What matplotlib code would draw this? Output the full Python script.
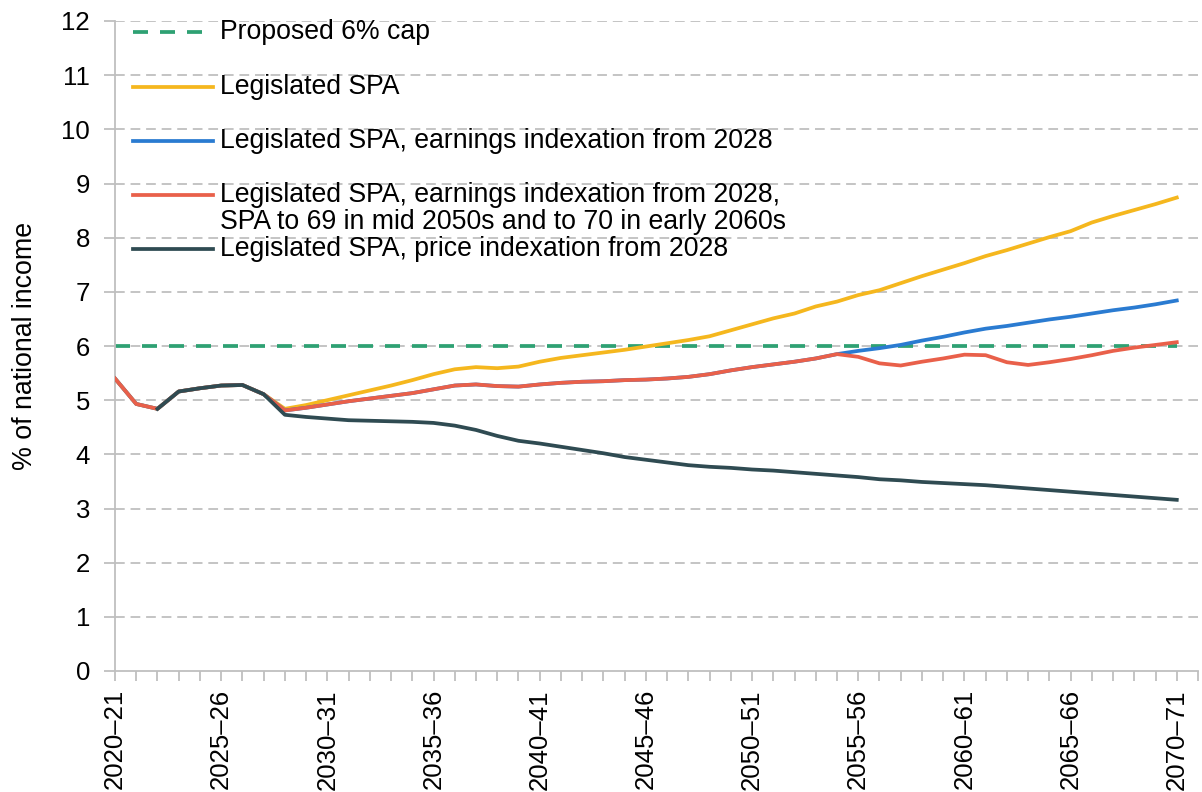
import numpy as np
import matplotlib.pyplot as plt
from matplotlib.lines import Line2D

plt.rcParams['font.family'] = ['Liberation Sans', 'DejaVu Sans']

# Financial years 2020-21 .. 2070-71
years = [f"{2020 + i}\u2013{(21 + i) % 100:02d}" for i in range(51)]

cap = [6.0] * 51

legislated = [5.40, 4.93, 4.84, 5.16, 5.22, 5.27, 5.28, 5.11, 4.84, 4.91,
              5.00, 5.09, 5.18, 5.27, 5.37, 5.48, 5.57, 5.61, 5.59, 5.62,
              5.71, 5.78, 5.83, 5.88, 5.93, 5.99, 6.05, 6.11, 6.18, 6.29,
              6.40, 6.51, 6.60, 6.73, 6.82, 6.94, 7.03, 7.16, 7.29, 7.41,
              7.53, 7.66, 7.77, 7.89, 8.01, 8.12, 8.28, 8.40, 8.51, 8.62,
              8.74]

earnings = [5.40, 4.93, 4.84, 5.16, 5.22, 5.27, 5.28, 5.11, 4.81, 4.86,
            4.92, 4.98, 5.03, 5.08, 5.13, 5.20, 5.27, 5.29, 5.26, 5.25,
            5.29, 5.32, 5.34, 5.35, 5.37, 5.38, 5.40, 5.43, 5.48, 5.55,
            5.61, 5.66, 5.71, 5.77, 5.85, 5.91, 5.96, 6.02, 6.10, 6.17,
            6.25, 6.32, 6.37, 6.43, 6.49, 6.54, 6.60, 6.66, 6.71, 6.77,
            6.84]

earnings_spa70 = [5.40, 4.93, 4.84, 5.16, 5.22, 5.27, 5.28, 5.11, 4.81, 4.86,
                  4.92, 4.98, 5.03, 5.08, 5.13, 5.20, 5.27, 5.29, 5.26, 5.25,
                  5.29, 5.32, 5.34, 5.35, 5.37, 5.38, 5.40, 5.43, 5.48, 5.55,
                  5.61, 5.66, 5.71, 5.77, 5.85, 5.80, 5.68, 5.64, 5.71, 5.77,
                  5.84, 5.83, 5.70, 5.65, 5.70, 5.76, 5.83, 5.91, 5.97, 6.02,
                  6.07]

prices = [np.nan, np.nan, 4.84, 5.16, 5.22, 5.27, 5.28, 5.11, 4.73, 4.69,
          4.66, 4.63, 4.62, 4.61, 4.60, 4.58, 4.53, 4.45, 4.34, 4.25,
          4.20, 4.14, 4.08, 4.02, 3.95, 3.90, 3.85, 3.80, 3.77, 3.75,
          3.72, 3.70, 3.67, 3.64, 3.61, 3.58, 3.54, 3.52, 3.49, 3.47,
          3.45, 3.43, 3.40, 3.37, 3.34, 3.31, 3.28, 3.25, 3.22, 3.19,
          3.16]

labels = ["Proposed 6% cap",
          "Legislated SPA",
          "Legislated SPA, earnings indexation from 2028",
          "Legislated SPA, earnings indexation from 2028,\nSPA to 69 in mid 2050s and to 70 in early 2060s",
          "Legislated SPA, price indexation from 2028"]
colors = ["#2ea173", "#f5b71e", "#2a7bd1", "#e9604a", "#2f4b52"]

x = np.arange(len(years))

fig = plt.figure(figsize=(12.02, 7.92), dpi=100)
ax = fig.add_axes([115 / 1202, 1 - 671 / 792, (1198 - 115) / 1202, 650 / 792])

grid_kw = dict(color="#c4c4c4", lw=1.4, ls=(0, (5, 3)))
for v in range(1, 13):
    ax.axhline(v, zorder=0, **grid_kw)

lw = 2.7
ax.plot(x, cap, color=colors[0], lw=lw, ls=(0, (4.0, 3.2)), zorder=2)
ax.plot(x, legislated, color=colors[1], lw=lw, zorder=3)
ax.plot(x, earnings, color=colors[2], lw=lw, zorder=4)
ax.plot(x, earnings_spa70, color=colors[3], lw=lw, zorder=5)
ax.plot(x, prices, color=colors[4], lw=lw, zorder=6)

ax.set_xlim(0, 51)
ax.set_ylim(0, 12)
ax.set_yticks(range(0, 13))
ax.set_xticks(np.arange(0, 52), minor=True)
ax.set_xticks(x[::5])
ax.set_xticklabels(years[::5], rotation=90)
ax.tick_params(axis="x", which="both", length=7, color="#bfbfbf", width=1.3,
               labelsize=18.5, pad=6)
ax.tick_params(axis="y", length=8, color="#bfbfbf", width=1.3, labelsize=18.5, pad=10)
for s in ["top", "right"]:
    ax.spines[s].set_visible(False)
for s in ["left", "bottom"]:
    ax.spines[s].set_color("#bfbfbf")
    ax.spines[s].set_linewidth(1.3)
ax.set_ylabel("% of national income", fontsize=19.3, labelpad=17)

# manual legend, laid out like the original
def ax_xy(px, py):
    return (px - 115) / (1198 - 115), (671 - py) / 650

rows = [32, 87, 141, 195, 249]
for i, (lab, c, py) in enumerate(zip(labels, colors, rows)):
    x0, y0 = ax_xy(133, py)
    x1, _ = ax_xy(213, py)
    ls = (0, (4.0, 3.2)) if i == 0 else "-"
    ax.add_line(Line2D([x0, x1], [y0, y0], transform=ax.transAxes, color=c,
                       lw=lw, ls=ls, zorder=7))
    for k, part in enumerate(lab.split("\n")):
        tx, ty = ax_xy(220, py + 27 * k)
        ax.text(tx, ty, part, transform=ax.transAxes, fontsize=19.2,
                va="center", ha="left", zorder=8)

fig.savefig("out.png", dpi=100)
